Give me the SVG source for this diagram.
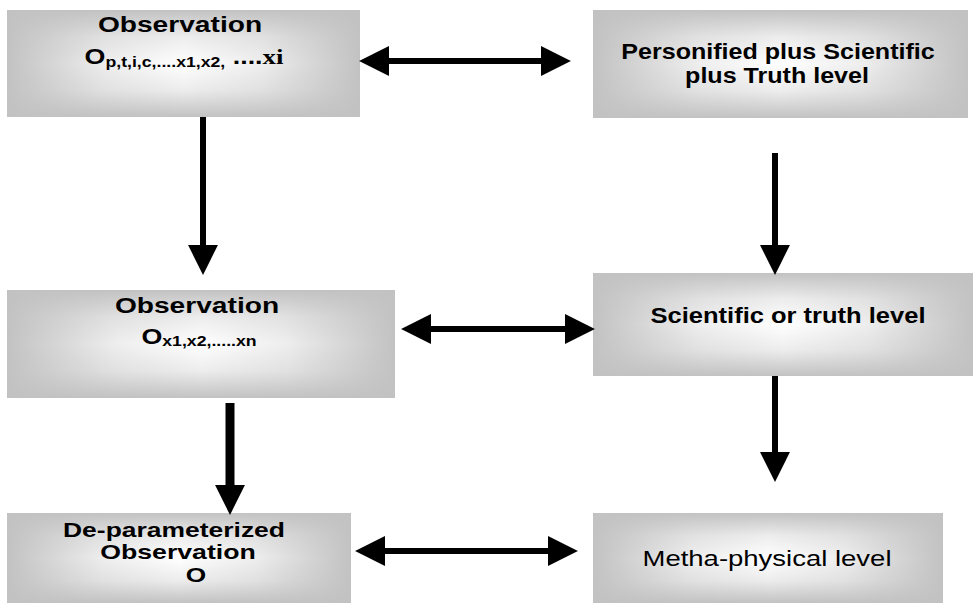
<svg xmlns="http://www.w3.org/2000/svg" width="973" height="613" viewBox="0 0 973 613">
<style>
.t{font-family:"Liberation Sans",Arial,sans-serif;font-weight:bold;font-size:22px;fill:#000;text-anchor:middle}
.r{font-weight:normal}
.sub{font-size:14.5px}
.serif{font-family:"Liberation Serif","Times New Roman",serif}
.ln{stroke:#000;stroke-width:6;fill:none}
</style>
<defs>
<linearGradient id="gh" x1="0" y1="0" x2="1" y2="0">
<stop offset="0" stop-color="#c2c2c2"/>
<stop offset="0.28" stop-color="#eeeeee"/>
<stop offset="0.5" stop-color="#ffffff"/>
<stop offset="0.72" stop-color="#eeeeee"/>
<stop offset="1" stop-color="#c2c2c2"/>
</linearGradient>
<linearGradient id="gv" x1="0" y1="0" x2="0" y2="1">
<stop offset="0" stop-color="#c2c2c2" stop-opacity="1"/>
<stop offset="0.25" stop-color="#c2c2c2" stop-opacity="0.3"/>
<stop offset="0.5" stop-color="#c2c2c2" stop-opacity="0"/>
<stop offset="0.75" stop-color="#c2c2c2" stop-opacity="0.3"/>
<stop offset="1" stop-color="#c2c2c2" stop-opacity="1"/>
</linearGradient>
<marker id="ah" markerUnits="userSpaceOnUse" markerWidth="30" markerHeight="30" refX="1" refY="14" orient="auto-start-reverse" viewBox="0 0 28 28">
<path d="M0,0 L28,14 L0,28 z" fill="#000"/>
</marker>
</defs>
<rect width="973" height="613" fill="#fff"/>

<g id="obs1">
<rect x="7" y="10" width="353" height="107" fill="url(#gh)"/>
<rect x="7" y="10" width="353" height="107" fill="url(#gv)"/>
<text class="t" transform="translate(180,32) scale(1.28,1)" x="0" y="0">Observation</text>
<text class="t" transform="translate(184,64) scale(1.22,1)" x="0" y="0">O<tspan class="sub" dy="3">p,t,i,c,....x1,x2,</tspan><tspan dy="-3"> ....</tspan><tspan class="serif">xi</tspan></text>
</g>

<g id="personified">
<rect x="593" y="10" width="375" height="108" fill="url(#gh)"/>
<rect x="593" y="10" width="375" height="108" fill="url(#gv)"/>
<text class="t" transform="translate(778,59) scale(1.14,1)" x="0" y="0">Personified plus Scientific</text>
<text class="t" transform="translate(777,83) scale(1.14,1)" x="0" y="0">plus Truth level</text>
</g>

<g id="obs2">
<rect x="7" y="290" width="388" height="108" fill="url(#gh)"/>
<rect x="7" y="290" width="388" height="108" fill="url(#gv)"/>
<text class="t" transform="translate(197,313) scale(1.28,1)" x="0" y="0">Observation</text>
<text class="t" transform="translate(199,344) scale(1.22,1)" x="0" y="0">O<tspan class="sub" dy="2">x1,x2,.....xn</tspan></text>
</g>

<g id="scientific">
<rect x="593" y="273" width="380" height="103" fill="url(#gh)"/>
<rect x="593" y="273" width="380" height="103" fill="url(#gv)"/>
<text class="t" transform="translate(788,323) scale(1.16,1)" x="0" y="0">Scientific or truth level</text>
</g>

<g id="deparam">
<rect x="7" y="513" width="344" height="90" fill="url(#gh)"/>
<rect x="7" y="513" width="344" height="90" fill="url(#gv)"/>
<text class="t" style="font-size:21px" transform="translate(174,537) scale(1.26,1)" x="0" y="0">De-parameterized</text>
<text class="t" style="font-size:21px" transform="translate(178,559) scale(1.27,1)" x="0" y="0">Observation</text>
<text class="t" style="font-size:21px" transform="translate(196,582) scale(1.25,1)" x="0" y="0">O</text>
</g>

<g id="metha">
<rect x="593" y="513" width="350" height="90" fill="url(#gh)"/>
<rect x="593" y="513" width="350" height="90" fill="url(#gv)"/>
<text class="t r" transform="translate(767,566) scale(1.25,1)" x="0" y="0">Metha-physical level</text>
</g>

<g id="connectors">
<line class="ln" x1="388" y1="61" x2="542" y2="61" marker-start="url(#ah)" marker-end="url(#ah)"/>
<line class="ln" x1="430" y1="329" x2="566" y2="329" marker-start="url(#ah)" marker-end="url(#ah)"/>
<line class="ln" x1="384" y1="551" x2="549" y2="551" marker-start="url(#ah)" marker-end="url(#ah)"/>
<line class="ln" x1="203" y1="117" x2="203" y2="246" marker-end="url(#ah)"/>
<line class="ln" x1="775" y1="153" x2="775" y2="246" marker-end="url(#ah)"/>
<line class="ln" x1="775" y1="376" x2="775" y2="453" marker-end="url(#ah)"/>
<line x1="230" y1="403" x2="230" y2="486" stroke="#000" stroke-width="9" marker-end="url(#ah)"/>
</g>
</svg>
